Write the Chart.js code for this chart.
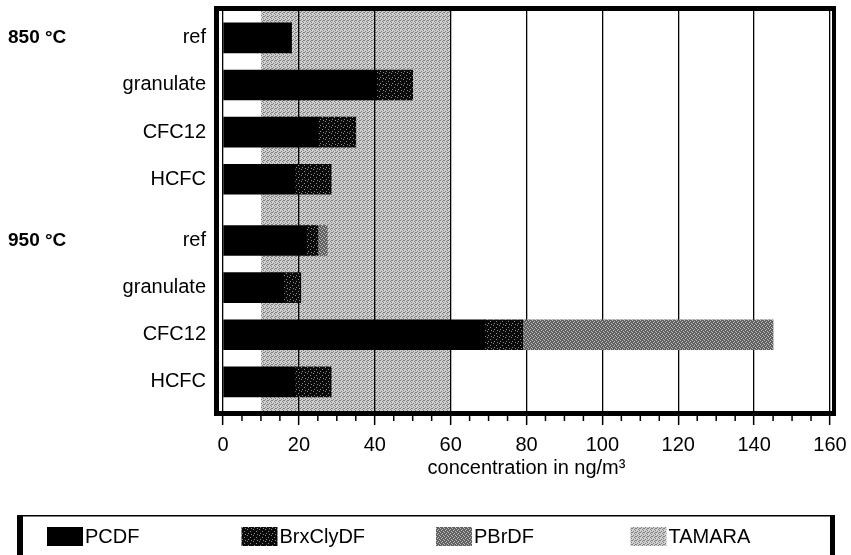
<!DOCTYPE html>
<html>
<head>
<meta charset="utf-8">
<script src="https://cdn.jsdelivr.net/npm/chart.js@4.4.0/dist/chart.umd.min.js"></script>
<style>
  html, body { margin: 0; padding: 0; background: #fff; }
</style>
</head>
<body>
<canvas id="chart" width="851" height="555"></canvas>
<script>
// rows, top to bottom
const rowLabels = ['ref', 'granulate', 'CFC12', 'HCFC', 'ref', 'granulate', 'CFC12', 'HCFC'];
const rowGroup = [0, 0, 0, 0, 1, 1, 1, 1];
const groupLabels = ['850 °C', '950 °C'];

// ng/m3
const pcdf   = [18, 40.5, 25, 19, 22, 16, 69, 19];
const brxcly = [0, 9.5, 10, 9.5, 3, 4.5, 10, 9.5];
const pbrdf  = [0, 0, 0, 0, 2.5, 0, 66, 0];
const tamaraRange = [10, 60];

const xTicks = [0, 20, 40, 60, 80, 100, 120, 140, 160];

const FONT = '"Liberation Sans", Arial, Helvetica, sans-serif';
const GROUP_GAP = 0.3;

const canvas = document.getElementById('chart');
const ctx = canvas.getContext('2d');

function makePattern(size, bg, fg, cells){
  const c = document.createElement('canvas');
  c.width = c.height = size;
  const g = c.getContext('2d');
  g.fillStyle = bg;
  g.fillRect(0, 0, size, size);
  g.fillStyle = fg;
  cells.forEach(([x, y]) => g.fillRect(x, y, 1, 1));
  return ctx.createPattern(c, 'repeat');
}

const brxFill = makePattern(6, '#0a0a0a', '#8a8a8a', [[1,1],[4,3],[2,5],[5,0]]);
const pbrFill = makePattern(4, '#606060', '#c0c0c0', [[0,0],[2,1],[1,2],[3,3]]);
const tamFill = makePattern(4, '#d0d0d0', '#7e7e7e', [[0,0],[2,1],[1,3],[3,2],[3,0]]);

const rowPos = rowGroup.map((g, i) => i + g * GROUP_GAP);
const toPoints = vals => vals.map((v, i) => ({ x: v, y: rowPos[i] }));

const bandPlugin = {
  id: 'tamaraBand',
  beforeDraw(chart){
    const { top, bottom } = chart.chartArea;
    const x = chart.scales.x;
    const g = chart.ctx;
    const x0 = x.getPixelForValue(tamaraRange[0]);
    const x1 = x.getPixelForValue(tamaraRange[1]);
    g.save();
    g.fillStyle = tamFill;
    g.fillRect(x0, top, x1 - x0, bottom - top);
    g.restore();
  }
};

const framePlugin = {
  id: 'frame',
  afterDraw(chart){
    const { left, right, top, bottom } = chart.chartArea;
    const x = chart.scales.x;
    const y = chart.scales.y;
    const g = chart.ctx;
    g.save();
    g.fillStyle = '#000';
    const fl = left - 9, fr = right + 6;
    g.fillRect(fl, top - 5, fr - fl, 5);
    g.fillRect(fl, bottom - 1, fr - fl, 5);
    g.fillRect(fl, top - 5, 5, bottom - top + 9);
    g.fillRect(right + 2, top - 5, 4, bottom - top + 9);
    // minor ticks every 5
    g.strokeStyle = '#000';
    g.lineWidth = 1.5;
    for (let v = 5; v < 160; v += 5){
      if (v % 20 === 0) continue;
      const px = x.getPixelForValue(v);
      g.beginPath();
      g.moveTo(px, bottom + 4);
      g.lineTo(px, bottom + 9);
      g.stroke();
    }
    // group labels
    g.font = 'bold 19px ' + FONT;
    g.textAlign = 'left';
    g.textBaseline = 'middle';
    groupLabels.forEach((lab, gi) => {
      const first = rowGroup.indexOf(gi);
      g.fillText(lab, 8, y.getPixelForValue(rowPos[first]));
    });
    g.restore();
  }
};

const legendPlugin = {
  id: 'boxLegend',
  afterDraw(chart){
    const g = chart.ctx;
    const items = chart.data.datasets.map(d => ({ label: d.label, fill: d.backgroundColor }));
    items.push({ label: 'TAMARA', fill: tamFill });
    const boxTop = chart.scales.x.bottom + 35;
    const boxLeft = 17, boxRight = chart.chartArea.right + 5;
    g.save();
    g.fillStyle = '#000';
    g.fillRect(boxLeft, boxTop, boxRight - boxLeft, 1.5);
    g.fillRect(boxLeft, boxTop, 6, chart.height - boxTop);
    g.fillRect(boxRight - 5, boxTop, 5, chart.height - boxTop);
    const cy = boxTop + 21;
    const slot = (boxRight - boxLeft - 40) / items.length;
    g.font = '20px ' + FONT;
    g.textBaseline = 'middle';
    g.textAlign = 'left';
    items.forEach((it, k) => {
      const sx = boxLeft + 30 + k * slot;
      g.fillStyle = it.fill;
      g.fillRect(sx, cy - 9, 36, 19);
      g.fillStyle = '#000';
      g.fillText(it.label, sx + 38, cy + 1);
    });
    g.restore();
  }
};

new Chart(ctx, {
  type: 'bar',
  data: {
    datasets: [
      { label: 'PCDF', data: toPoints(pcdf), backgroundColor: '#000' },
      { label: 'BrxClyDF', data: toPoints(brxcly), backgroundColor: brxFill },
      { label: 'PBrDF', data: toPoints(pbrdf), backgroundColor: pbrFill }
    ]
  },
  options: {
    indexAxis: 'y',
    responsive: false,
    animation: false,
    layout: { padding: { left: 0, right: 21, top: 11, bottom: 75 } },
    datasets: { bar: { barThickness: 30, borderWidth: 0 } },
    scales: {
      x: {
        type: 'linear',
        stacked: true,
        min: xTicks[0],
        max: xTicks[xTicks.length - 1],
        afterBuildTicks: s => { s.ticks = xTicks.map(v => ({ value: v })); },
        afterFit: s => { s.height = 68; s.paddingLeft = 0; s.paddingRight = 0; },
        ticks: { color: '#000', font: { family: FONT, size: 20 }, padding: 8, maxRotation: 0 },
        grid: { color: '#000', lineWidth: 1.3, tickLength: 13, tickColor: '#000', tickWidth: 1.5 },
        border: { display: false },
        title: {
          display: true,
          text: 'concentration in ng/m³',
          color: '#000',
          font: { family: FONT, size: 20 },
          padding: { top: 0, bottom: 0 }
        }
      },
      y: {
        type: 'linear',
        stacked: true,
        reverse: true,
        offset: false,
        min: -0.57,
        max: 7.94,
        afterBuildTicks: s => { s.ticks = rowPos.map(v => ({ value: v })); },
        afterFit: s => { s.width = 223; s.paddingTop = 0; s.paddingBottom = 0; },
        ticks: {
          autoSkip: false,
          color: '#000',
          font: { family: FONT, size: 20 },
          padding: 17,
          callback: (v, i) => rowLabels[i]
        },
        grid: { display: false, drawTicks: false },
        border: { display: false }
      }
    },
    plugins: { legend: { display: false }, tooltip: { enabled: false } }
  },
  plugins: [bandPlugin, framePlugin, legendPlugin]
});
</script>
</body>
</html>
